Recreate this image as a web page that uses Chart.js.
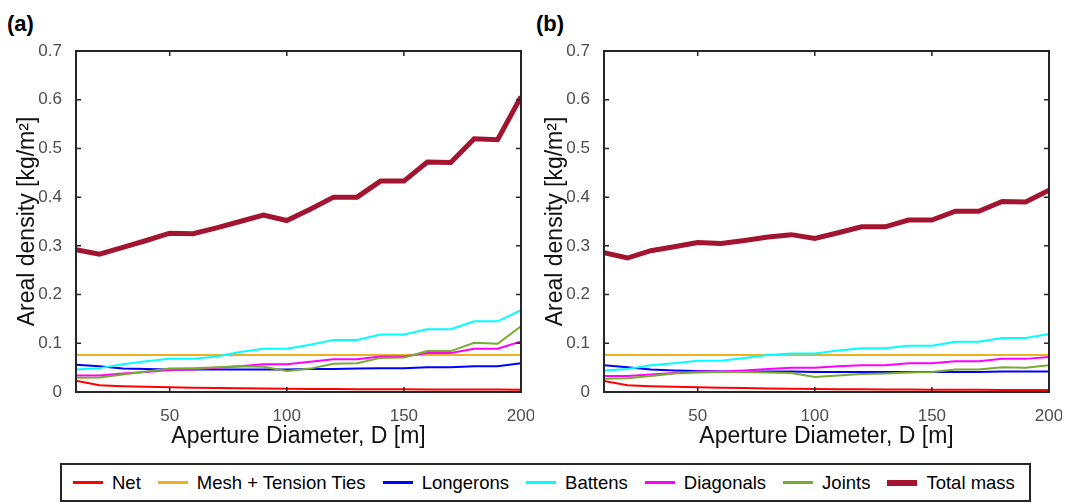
<!DOCTYPE html>
<html>
<head>
<meta charset="utf-8">
<script src="https://cdn.jsdelivr.net/npm/chart.js@4.4.1/dist/chart.umd.min.js"></script>
<style>
  body { margin: 0; background: #fff; width: 1068px; height: 504px; position: relative; overflow: hidden;
         font-family: 'Liberation Sans', Arial, sans-serif; }
  canvas { position: absolute; top: 0; }
  .panel { position: absolute; top: 11px; font-weight: bold; font-size: 22px; color: #000; }
  #legend { position: absolute; left: 60px; top: 463px; width: 971px; height: 39px;
            border: 2px solid #262626; display: flex; align-items: center; box-sizing: border-box;
            font-size: 18.5px; color: #000; padding-left: 11px; white-space: nowrap; }
  .item { display: flex; align-items: center; margin-right: 17px; flex-shrink: 0; }
  .swatch { width: 30px; margin-right: 9px; flex-shrink: 0; }
</style>
</head>
<body>
<div class="panel" style="left:7px">(a)</div>
<div class="panel" style="left:536px">(b)</div>
<canvas id="chartA" width="534" height="460" style="left:0px"></canvas>
<canvas id="chartB" width="534" height="460" style="left:528px"></canvas>
<div id="legend"></div>
<script>
// aperture diameter D [m]
const diameters = [10, 20, 30, 40, 50, 60, 70, 80, 90, 100, 110, 120, 130, 140, 150, 160, 170, 180, 190, 200];

const seriesNames = ['Net', 'Mesh + Tension Ties', 'Longerons', 'Battens', 'Diagonals', 'Joints', 'Total mass'];
const seriesColors = ['#ff0000', '#EDB120', '#0000ff', '#00ffff', '#ff00ff', '#77AC30', '#A2142F'];
const seriesWidths = [2, 2, 2, 2, 2, 2, 5];

// (a)
const netA = [0.023, 0.014, 0.012, 0.011, 0.010, 0.0085, 0.008, 0.0075, 0.007, 0.0068, 0.0064, 0.006, 0.0058, 0.0056, 0.0055, 0.0053, 0.0052, 0.005, 0.0049, 0.0048];
const meshA = [0.076, 0.076, 0.076, 0.076, 0.076, 0.076, 0.076, 0.076, 0.076, 0.076, 0.076, 0.076, 0.076, 0.076, 0.076, 0.076, 0.076, 0.076, 0.076, 0.076];
const longeronsA = [0.056, 0.053, 0.048, 0.047, 0.046, 0.046, 0.046, 0.046, 0.046, 0.046, 0.047, 0.047, 0.048, 0.049, 0.049, 0.051, 0.051, 0.053, 0.053, 0.059];
const battensA = [0.046, 0.049, 0.057, 0.063, 0.068, 0.068, 0.073, 0.082, 0.089, 0.089, 0.097, 0.107, 0.107, 0.118, 0.118, 0.129, 0.129, 0.145, 0.145, 0.168];
const diagonalsA = [0.034, 0.034, 0.038, 0.041, 0.045, 0.046, 0.050, 0.053, 0.057, 0.057, 0.062, 0.067, 0.067, 0.073, 0.073, 0.080, 0.080, 0.089, 0.089, 0.104];
const jointsA = [0.029, 0.030, 0.036, 0.042, 0.048, 0.049, 0.051, 0.053, 0.052, 0.043, 0.048, 0.058, 0.059, 0.070, 0.071, 0.084, 0.084, 0.101, 0.099, 0.135];
const totalA = [0.292, 0.283, 0.297, 0.311, 0.326, 0.325, 0.337, 0.350, 0.363, 0.352, 0.375, 0.400, 0.400, 0.433, 0.433, 0.472, 0.471, 0.520, 0.518, 0.606];

// (b)
const netB = [0.0225, 0.0137, 0.012, 0.011, 0.0096, 0.0085, 0.008, 0.0072, 0.0066, 0.006, 0.0058, 0.0055, 0.0052, 0.005, 0.0048, 0.0046, 0.0044, 0.0043, 0.0042, 0.004];
const meshB = [0.076, 0.076, 0.076, 0.076, 0.076, 0.076, 0.076, 0.076, 0.076, 0.076, 0.076, 0.076, 0.076, 0.076, 0.076, 0.076, 0.076, 0.076, 0.076, 0.076];
const longeronsB = [0.055, 0.051, 0.046, 0.044, 0.043, 0.042, 0.042, 0.042, 0.042, 0.041, 0.041, 0.041, 0.041, 0.041, 0.041, 0.041, 0.041, 0.042, 0.042, 0.042];
const battensB = [0.044, 0.047, 0.055, 0.059, 0.064, 0.064, 0.070, 0.076, 0.079, 0.079, 0.085, 0.090, 0.090, 0.095, 0.095, 0.103, 0.103, 0.111, 0.111, 0.119];
const diagonalsB = [0.033, 0.033, 0.036, 0.039, 0.042, 0.042, 0.044, 0.047, 0.050, 0.050, 0.053, 0.055, 0.055, 0.059, 0.059, 0.063, 0.063, 0.068, 0.068, 0.072];
const jointsB = [0.027, 0.028, 0.033, 0.038, 0.040, 0.041, 0.041, 0.040, 0.039, 0.031, 0.034, 0.037, 0.038, 0.040, 0.041, 0.046, 0.046, 0.051, 0.050, 0.055];
const totalB = [0.286, 0.275, 0.290, 0.298, 0.307, 0.305, 0.311, 0.318, 0.323, 0.315, 0.327, 0.339, 0.339, 0.353, 0.353, 0.371, 0.371, 0.391, 0.390, 0.414];

const xTicks = [50, 100, 150, 200];
const frameColor = '#262626';

// MATLAB style box with inward ticks
const boxPlugin = {
  id: 'box',
  afterDatasetsDraw(chart) {
    const ctx = chart.ctx;
    const a = chart.chartArea;
    const xs = chart.scales.x, ys = chart.scales.y;
    ctx.save();
    ctx.strokeStyle = frameColor;
    ctx.lineWidth = 2;
    ctx.strokeRect(a.left, a.top, a.right - a.left, a.bottom - a.top);
    ctx.lineWidth = 1.5;
    ctx.beginPath();
    xs.ticks.forEach(t => {
      const px = xs.getPixelForValue(t.value);
      ctx.moveTo(px, a.bottom); ctx.lineTo(px, a.bottom - 5);
      ctx.moveTo(px, a.top); ctx.lineTo(px, a.top + 5);
    });
    ys.ticks.forEach(t => {
      const py = ys.getPixelForValue(t.value);
      ctx.moveTo(a.left, py); ctx.lineTo(a.left + 5, py);
      ctx.moveTo(a.right, py); ctx.lineTo(a.right - 5, py);
    });
    ctx.stroke();
    ctx.restore();
  }
};

function makeChart(id, series) {
  const datasets = series.map((vals, i) => ({
    label: seriesNames[i],
    data: vals.map((v, j) => ({ x: diameters[j], y: v })),
    borderColor: seriesColors[i],
    borderWidth: seriesWidths[i],
    pointRadius: 0,
    tension: 0,
    order: series.length - i
  }));
  return new Chart(document.getElementById(id), {
    type: 'line',
    data: { datasets: datasets },
    options: {
      responsive: false,
      animation: false,
      layout: { padding: { top: 51, right: 13, left: 0, bottom: 0 } },
      plugins: { legend: { display: false }, tooltip: { enabled: false } },
      scales: {
        x: {
          type: 'linear', min: 10, max: 200,
          grid: { display: false }, border: { display: false },
          afterBuildTicks: s => { s.ticks = xTicks.map(v => ({ value: v })); },
          afterFit: s => { s.height = 68; s.paddingLeft = 0; s.paddingRight = 0; },
          ticks: { color: '#4d4d4d', font: { size: 17 }, padding: 6, maxRotation: 0 },
          title: { display: true, text: 'Aperture Diameter, D [m]', color: '#111', font: { size: 23 }, padding: { top: 0, bottom: 10 } }
        },
        y: {
          min: 0, max: 0.7,
          grid: { display: false }, border: { display: false },
          afterFit: s => { s.width = 76; s.paddingTop = 0; s.paddingBottom = 0; },
          ticks: { stepSize: 0.1, color: '#4d4d4d', font: { size: 17 }, padding: 6,
                   callback: v => String(Math.round(v * 10) / 10) },
          title: { display: true, text: 'Areal density [kg/m²]', color: '#111', font: { size: 23 }, padding: { top: 14, bottom: 0 } }
        }
      }
    },
    plugins: [boxPlugin]
  });
}

Chart.defaults.font.family = "'Liberation Sans', Arial, sans-serif";
makeChart('chartA', [netA, meshA, longeronsA, battensA, diagonalsA, jointsA, totalA]);
makeChart('chartB', [netB, meshB, longeronsB, battensB, diagonalsB, jointsB, totalB]);

// legend
const legend = document.getElementById('legend');
seriesNames.forEach((name, i) => {
  const item = document.createElement('div');
  item.className = 'item';
  const sw = document.createElement('span');
  sw.className = 'swatch';
  sw.style.background = seriesColors[i];
  sw.style.height = (i === 6 ? 6 : 3) + 'px';
  const txt = document.createElement('span');
  txt.textContent = name;
  item.appendChild(sw);
  item.appendChild(txt);
  legend.appendChild(item);
});
</script>
</body>
</html>
